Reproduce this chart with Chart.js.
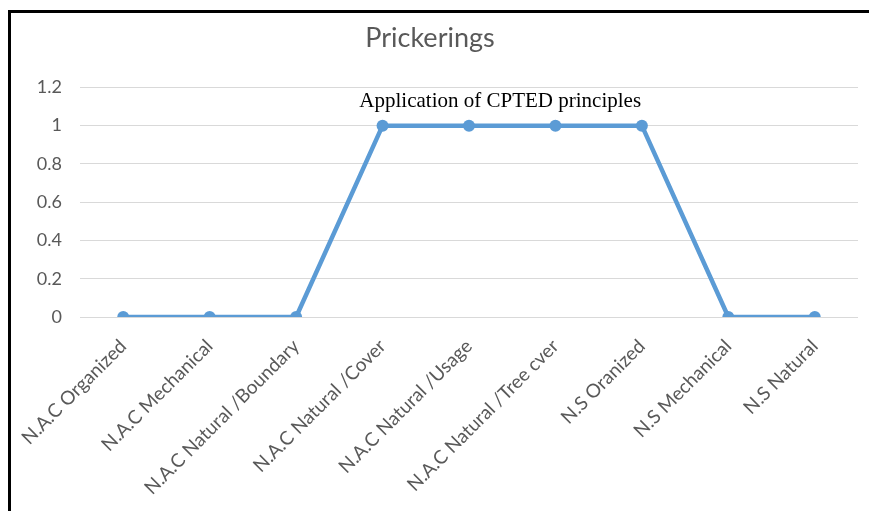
<!DOCTYPE html>
<html>
<head>
<meta charset="utf-8">
<script src="https://cdn.jsdelivr.net/npm/chart.js@4"></script>
<style>
    body { margin: 0; background: #ffffff; }
    #marco { position: absolute; left: 0; top: 0; width: 869px; height: 511px; }
    #borde {
        position: absolute; left: 8px; top: 10px; width: 880px; height: 520px;
        border-left: 3px solid #000; border-top: 3px solid #000;
        pointer-events: none;
    }
</style>
</head>
<body>
<div id="marco"><canvas id="grafico" width="869" height="511"></canvas></div>
<div id="borde"></div>
<script>
let categorias = ['N.A.C Organized', 'N.A.C Mechanical', 'N.A.C Natural /Boundary', 'N.A.C Natural /Cover',
    'N.A.C Natural /Usage', 'N.A.C Natural /Tree cver', 'N.S Oranized', 'N.S Mechanical', 'N.S Natural'];
let valores = [0, 0, 0, 1, 1, 1, 1, 0, 0];
let titulo = 'Prickerings';
let nota = 'Application of CPTED principles';
let ejeYMax = 1.2;
let ejeYPaso = 0.2;

let colorTexto = '#595959';
let colorLinea = '#5b9bd5';

let pluginNota = {
    id: 'nota',
    afterDatasetsDraw: function(chart) {
        let ctx = chart.ctx;
        let x = chart.scales.x;
        let y = chart.scales.y;
        let centro = (x.getPixelForValue(3) + x.getPixelForValue(6)) / 2 - 12;
        ctx.save();
        ctx.font = '21px "Liberation Serif", "Times New Roman", serif';
        ctx.fillStyle = '#000000';
        ctx.textAlign = 'center';
        ctx.textBaseline = 'alphabetic';
        ctx.fillText(nota, centro, y.getPixelForValue(1.1));
        ctx.restore();
    }
};

new Chart(document.getElementById('grafico'), {
    type: 'line',
    data: {
        labels: categorias,
        datasets: [{
            data: valores,
            borderColor: colorLinea,
            backgroundColor: colorLinea,
            borderWidth: 4.5,
            pointRadius: 6,
            pointHoverRadius: 6,
            pointBackgroundColor: colorLinea,
            pointBorderWidth: 0,
            tension: 0,
            fill: false
        }]
    },
    options: {
        responsive: false,
        animation: false,
        layout: { padding: { top: 10, right: 11, left: 2, bottom: 0 } },
        plugins: {
            legend: { display: false },
            tooltip: { enabled: false },
            title: {
                display: true,
                text: titulo,
                color: colorTexto,
                font: { family: 'Lato', size: 27, weight: 'normal' },
                padding: { top: 12, bottom: 33 }
            }
        },
        scales: {
            y: {
                min: 0,
                max: ejeYMax,
                afterFit: function(scale) { scale.width = 78; },
                ticks: {
                    stepSize: ejeYPaso,
                    color: colorTexto,
                    padding: 18,
                    font: { family: 'Lato', size: 18 },
                    callback: function(v) { return Math.round(v * 10) / 10; }
                },
                grid: { color: '#d9d9d9', drawTicks: false },
                border: { display: false }
            },
            x: {
                offset: true,
                afterFit: function(scale) { scale.height = 194; },
                ticks: {
                    color: colorTexto,
                    maxRotation: 45,
                    minRotation: 45,
                    autoSkip: false,
                    padding: 10,
                    font: { family: 'Lato', size: 19 }
                },
                grid: { display: false, offset: true },
                border: { display: false }
            }
        }
    },
    plugins: [pluginNota]
});
</script>
</body>
</html>
